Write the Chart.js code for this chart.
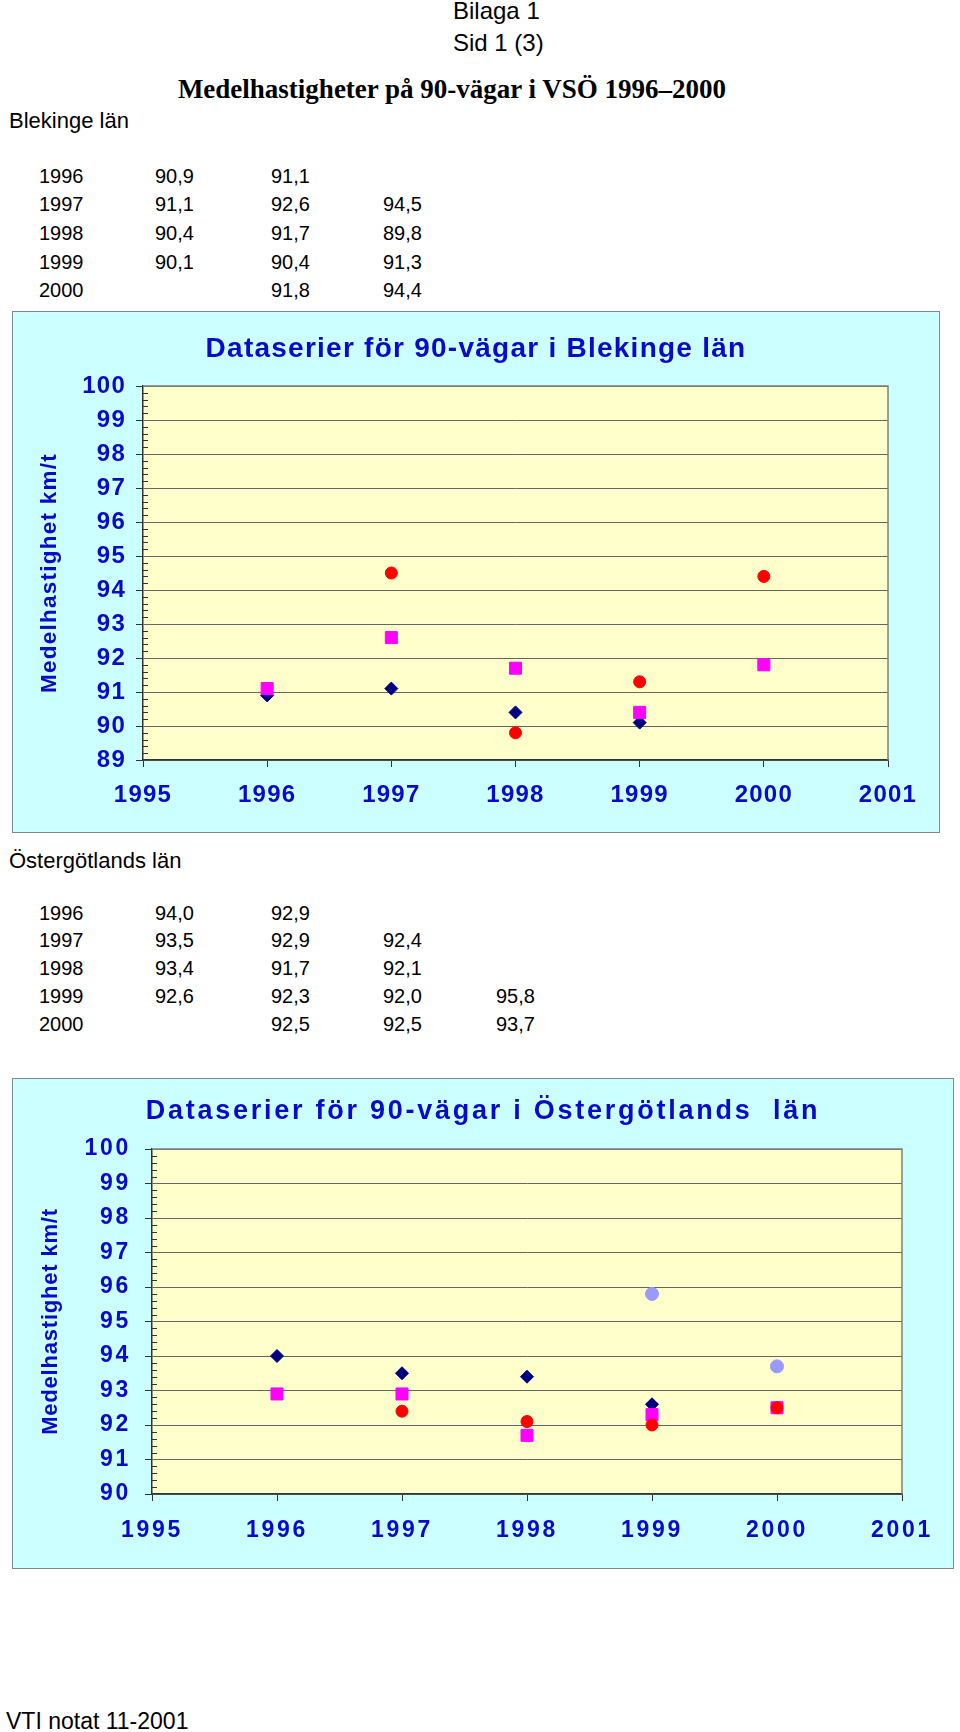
<!DOCTYPE html>
<html lang="sv">
<head>
<meta charset="utf-8">
<title>Medelhastigheter på 90-vägar i VSÖ 1996–2000</title>
<script src="https://cdn.jsdelivr.net/npm/chart.js@4.4.0/dist/chart.umd.min.js"></script>
<style>
  html, body { margin: 0; padding: 0; background: #fff; }
  body { position: relative; width: 960px; height: 1732px; overflow: hidden;
         font-family: "Liberation Sans", Arial, sans-serif; color: #000; }
  .txt { position: absolute; white-space: pre; line-height: 1; }
  .title { position: absolute; left: 152px; width: 600px; text-align: center; line-height: 1;
           font-family: "Liberation Serif", "Times New Roman", serif; font-weight: bold; font-size: 27px; }
  .box { position: absolute; background: #ccffff; box-shadow: inset 0 0 0 1px #7f8c8c; }
  .box canvas { position: absolute; left: 0; top: 0; }
</style>
</head>
<body>

<div class="txt" style="left:453px;top:-1px;font-size:24px">Bilaga 1</div>
<div class="txt" style="left:453px;top:31px;font-size:24px">Sid 1 (3)</div>
<div class="title" style="top:76px">Medelhastigheter på 90-vägar i VSÖ 1996–2000</div>

<div class="txt" style="left:9px;top:110px;font-size:22px">Blekinge län</div>
<div id="tableBlekinge"></div>

<div class="box" style="left:12px;top:311px;width:928px;height:522px">
  <canvas id="chartBlekinge" width="928" height="522"></canvas>
</div>

<div class="txt" style="left:9px;top:850px;font-size:22px">Östergötlands län</div>
<div id="tableOstgota"></div>

<div class="box" style="left:12px;top:1078px;width:942px;height:491px">
  <canvas id="chartOstgota" width="942" height="491"></canvas>
</div>

<div class="txt" style="left:6px;top:1710px;font-size:23px">VTI notat 11-2001</div>

<script>
// years measured and the x axis tick labels
const years = [1996, 1997, 1998, 1999, 2000];
const xTickLabels = ['1995', '1996', '1997', '1998', '1999', '2000', '2001'];

// Blekinge län, one array per data series
const blekingeS1 = [90.9, 91.1, 90.4, 90.1, null];
const blekingeS2 = [91.1, 92.6, 91.7, 90.4, 91.8];
const blekingeS3 = [null, 94.5, 89.8, 91.3, 94.4];
const blekingeYTicks = ['89', '90', '91', '92', '93', '94', '95', '96', '97', '98', '99', '100'];

// Östergötlands län
const ostgotaS1 = [94.0, 93.5, 93.4, 92.6, null];
const ostgotaS2 = [92.9, 92.9, 91.7, 92.3, 92.5];
const ostgotaS3 = [null, 92.4, 92.1, 92.0, 92.5];
const ostgotaS4 = [null, null, null, 95.8, 93.7];
const ostgotaYTicks = ['90', '91', '92', '93', '94', '95', '96', '97', '98', '99', '100'];

const blue = '#0a0ac8';
const markers = [
    { style: 'rectRot', color: '#000080', radius: 6.5 },
    { style: 'rect', color: '#ff00ff', radius: 8.5 },
    { style: 'circle', color: '#ff0000', radius: 6 },
    { style: 'circle', color: '#9999ff', radius: 6.5 }
];

function fmt(v) {
    return v === null ? '' : v.toFixed(1).replace('.', ',');
}

// the small number tables above each chart
function buildTable(id, series, top, step) {
    const cols = [39, 155, 271, 383, 496];
    let html = '';
    years.forEach((yr, i) => {
        const y = top + i * step;
        html += `<div class="txt" style="left:${cols[0]}px;top:${y}px;font-size:20px">${yr}</div>`;
        series.forEach((vals, s) => {
            html += `<div class="txt" style="left:${cols[s + 1]}px;top:${y}px;font-size:20px">${fmt(vals[i])}</div>`;
        });
    });
    document.getElementById(id).innerHTML = html;
}

buildTable('tableBlekinge', [blekingeS1, blekingeS2, blekingeS3], 165.5, 28.7);
buildTable('tableOstgota', [ostgotaS1, ostgotaS2, ostgotaS3, ostgotaS4], 902.5, 27.8);

// yellow plot area, frame, minor ticks and letter spacing
const plotFrame = {
    id: 'plotFrame',
    beforeDraw(chart, args, opts) {
        const { ctx, chartArea: a } = chart;
        ctx.save();
        ctx.fillStyle = '#ffffcc';
        ctx.fillRect(a.left, a.top, a.width, a.height);
        ctx.restore();
        ctx.letterSpacing = opts.spacing;
    },
    beforeDatasetsDraw(chart, args, opts) {
        const { ctx, chartArea: a, scales } = chart;
        const y = scales.y;
        ctx.save();
        ctx.strokeStyle = '#808080';
        ctx.lineWidth = 1.5;
        ctx.beginPath();
        ctx.moveTo(a.left, a.top);
        ctx.lineTo(a.right, a.top);
        ctx.lineTo(a.right, a.bottom);
        ctx.stroke();
        ctx.strokeStyle = '#333';
        ctx.lineWidth = 1;
        ctx.beginPath();
        const n = Math.round((y.max - y.min) / opts.minorStep);
        const per = Math.round(1 / opts.minorStep);
        for (let k = 1; k < n; k++) {
            if (k % per === 0) continue;
            const py = Math.round(y.getPixelForValue(y.min + k * opts.minorStep)) + 0.5;
            ctx.moveTo(a.left, py);
            ctx.lineTo(a.left + 5, py);
        }
        ctx.stroke();
        ctx.restore();
    }
};

function makeChart(canvasId, series, yTicks, cfg) {
    const datasets = series.map((vals, i) => ({
        label: 'Serie ' + (i + 1),
        data: years.map((yr, j) => ({ x: yr, y: vals[j] })).filter(p => p.y !== null),
        pointStyle: markers[i].style,
        pointRadius: markers[i].radius,
        backgroundColor: markers[i].color,
        borderColor: markers[i].color,
        borderWidth: 1,
        order: series.length - i
    }));

    return new Chart(document.getElementById(canvasId), {
        type: 'scatter',
        data: { datasets: datasets },
        options: {
            responsive: false,
            animation: false,
            events: [],
            layout: { padding: 0 },
            plugins: {
                legend: { display: false },
                tooltip: { enabled: false },
                title: {
                    display: true,
                    text: cfg.title,
                    color: blue,
                    font: { family: 'Liberation Sans', weight: 'bold', size: cfg.titleSize, lineHeight: 1.2 },
                    padding: cfg.titlePad
                },
                plotFrame: { spacing: cfg.spacing, minorStep: 0.2 }
            },
            scales: {
                x: {
                    type: 'linear',
                    min: 1995,
                    max: 2001,
                    ticks: {
                        stepSize: 1,
                        maxRotation: 0,
                        autoSkip: false,
                        color: blue,
                        padding: cfg.xTickPad,
                        font: { family: 'Liberation Sans', weight: 'bold', size: cfg.tickSize },
                        callback: (v, i) => xTickLabels[i]
                    },
                    grid: { drawOnChartArea: false, drawTicks: true, tickLength: 7, color: '#333' },
                    border: { color: '#333', width: 1.5 },
                    afterFit: s => { s.height = cfg.xHeight; }
                },
                y: {
                    min: Number(yTicks[0]),
                    max: Number(yTicks[yTicks.length - 1]),
                    ticks: {
                        stepSize: 1,
                        color: blue,
                        padding: cfg.yTickPad,
                        font: { family: 'Liberation Sans', weight: 'bold', size: cfg.tickSize },
                        callback: (v, i) => yTicks[i]
                    },
                    grid: { color: '#666', lineWidth: 1, tickLength: 7, tickColor: '#333' },
                    border: { color: '#333', width: 1.5 },
                    title: {
                        display: true,
                        text: 'Medelhastighet km/t',
                        color: blue,
                        font: { family: 'Liberation Sans', weight: 'bold', size: cfg.yTitleSize, lineHeight: 1.2 },
                        padding: { top: cfg.yTitlePad, bottom: 0 }
                    },
                    afterFit: s => {
                        s.width = cfg.yWidth;
                        // the axis title keeps its own letter spacing
                        if (!s.spacedTitle) {
                            const drawTitle = s.drawTitle.bind(s);
                            s.drawTitle = () => {
                                const prev = s.ctx.letterSpacing;
                                s.ctx.letterSpacing = cfg.yTitleSpacing;
                                drawTitle();
                                s.ctx.letterSpacing = prev;
                            };
                            s.spacedTitle = true;
                        }
                    }
                },
                // empty strip on the right so the title stays centred on the whole box
                yRight: {
                    type: 'linear',
                    position: 'right',
                    display: true,
                    ticks: { display: false },
                    grid: { display: false, drawTicks: false },
                    border: { display: false },
                    afterFit: s => { s.width = cfg.padRight; }
                }
            }
        },
        plugins: [plotFrame]
    });
}

makeChart('chartBlekinge', [blekingeS1, blekingeS2, blekingeS3], blekingeYTicks, {
    title: 'Dataserier för 90-vägar i Blekinge län',
    titleSize: 28,
    titlePad: { top: 21, bottom: 20.4 },
    spacing: '1.25px',
    tickSize: 24,
    padRight: 52,
    yWidth: 131,
    xHeight: 73,
    yTickPad: 10,
    xTickPad: 14,
    yTitleSize: 22.5,
    yTitleSpacing: '1.25px',
    yTitlePad: 24.5
});

makeChart('chartOstgota', [ostgotaS1, ostgotaS2, ostgotaS3, ostgotaS4], ostgotaYTicks, {
    title: 'Dataserier för 90-vägar i Östergötlands  län',
    titleSize: 27,
    titlePad: { top: 17.8, bottom: 20.8 },
    spacing: '2.75px',
    tickSize: 23,
    padRight: 52,
    yWidth: 140,
    xHeight: 75,
    yTickPad: 14,
    xTickPad: 16.2,
    yTitleSize: 22,
    yTitleSpacing: '0.8px',
    yTitlePad: 26
});
</script>
</body>
</html>
